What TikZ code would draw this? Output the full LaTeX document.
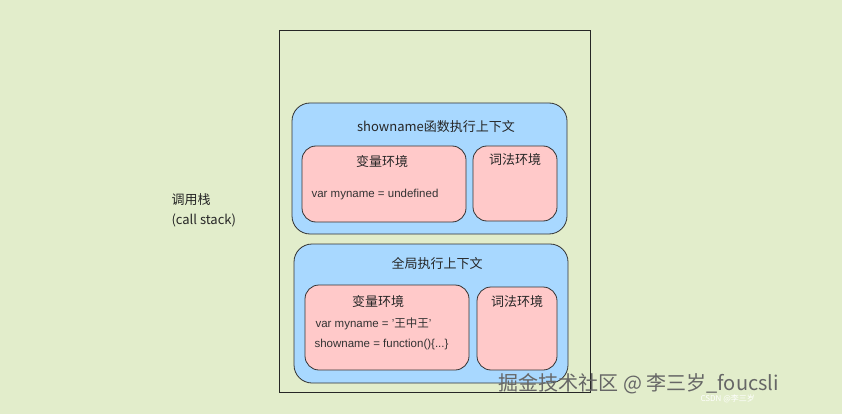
\documentclass[tikz,border=0pt]{standalone}
\usepackage{fontspec}
\setmainfont{Liberation Sans}
\newfontfamily\cjk{Noto Sans CJK SC}
\begin{document}
\begin{tikzpicture}[x=1pt,y=-1pt,
  ctx/.style={draw=black!80,fill=blueb,rounded corners=18pt,line width=0.8pt},
  env/.style={draw=black!80,fill=pinkb,rounded corners=14pt,line width=0.8pt},
  ttl/.style={font=\cjk\fontsize{13}{15}\selectfont,text=black!85},
  code/.style={font=\fontsize{11.5}{13}\selectfont,text=black!80,anchor=west}]
\definecolor{bg}{HTML}{E2EDCB}
\definecolor{blueb}{HTML}{A8D8FF}
\definecolor{pinkb}{HTML}{FFC9C9}
\fill[bg] (0,0) rectangle (842,414);
\useasboundingbox (0,0) rectangle (842,414);
\draw[black!85,line width=0.7pt] (279,30) rectangle (590,392);
\node[ttl,align=left,anchor=west,font=\cjk\fontsize{13}{20}\selectfont] (lbl) at (168,210) {调用栈\\(call stack)};
% top context
\draw[ctx] (292,103) rectangle (567,234);
\node[ttl] (t1) at (436,127) {showname函数执行上下文};
\draw[env] (302,146) rectangle (466,222);
\node[ttl] (v1) at (382,162) {变量环境};
\node[code] (c1) at (308,195) {var myname = undefined};
\draw[env] (473,146) rectangle (557,221);
\node[ttl] (l1) at (515,160) {词法环境};
% bottom context
\draw[ctx] (294,244) rectangle (568,383);
\node[ttl] (t2) at (437,264) {全局执行上下文};
\draw[env] (305,285) rectangle (469,370);
\node[ttl] (v2) at (378,302) {变量环境};
\node[code] (c2) at (312,324) {var myname = '{\cjk 王中王}'};
\node[code] (c3) at (311,345) {showname = function()\{...\}};
\draw[env] (477,287) rectangle (557,370);
\node[ttl] (l2) at (517,302) {词法环境};
% watermark
\node[font=\cjk\fontsize{20}{22}\selectfont,anchor=west,text=black!60] (wm) at (495,384) {掘金技术社区 @ 李三岁\_foucsli};
\node[font=\cjk\fontsize{8}{9}\selectfont,text=white,anchor=west] (wm2) at (697,399) {CSDN @李三岁};
\end{tikzpicture}
\end{document}
